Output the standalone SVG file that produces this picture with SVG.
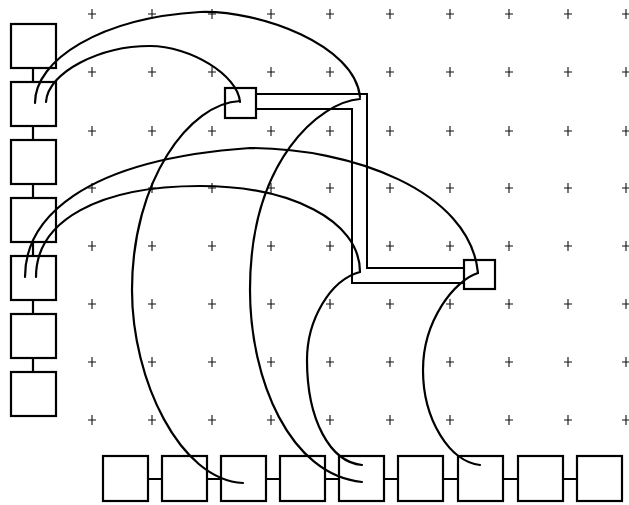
<svg xmlns="http://www.w3.org/2000/svg" xmlns:xlink="http://www.w3.org/1999/xlink" width="629" height="505" viewBox="0 0 629 505">
<style>
.box{fill:none;stroke:#000;stroke-width:2.2}
.wire{fill:none;stroke:#000;stroke-width:2.2;stroke-linecap:round;stroke-linejoin:round}
.link{fill:none;stroke:#000;stroke-width:2.2}
.band{fill:none;stroke:#000;stroke-width:2}
.cross{fill:none;stroke:#111;stroke-width:1.1}
</style>
<defs>
<path id="x" class="cross" d="M-4,0H4M0,-5V5"/>
</defs>
<rect width="629" height="505" fill="#fff"/>
<g id="grid">
<use href="#x" x="92" y="14"/><use href="#x" x="152" y="14"/><use href="#x" x="212" y="14"/><use href="#x" x="271" y="14"/><use href="#x" x="330" y="14"/><use href="#x" x="390" y="14"/><use href="#x" x="450" y="14"/><use href="#x" x="509" y="14"/><use href="#x" x="568" y="14"/><use href="#x" x="626" y="14"/>
<use href="#x" x="92" y="72"/><use href="#x" x="152" y="72"/><use href="#x" x="212" y="72"/><use href="#x" x="271" y="72"/><use href="#x" x="330" y="72"/><use href="#x" x="390" y="72"/><use href="#x" x="450" y="72"/><use href="#x" x="509" y="72"/><use href="#x" x="568" y="72"/><use href="#x" x="626" y="72"/>
<use href="#x" x="92" y="131"/><use href="#x" x="152" y="131"/><use href="#x" x="212" y="131"/><use href="#x" x="271" y="131"/><use href="#x" x="330" y="131"/><use href="#x" x="390" y="131"/><use href="#x" x="450" y="131"/><use href="#x" x="509" y="131"/><use href="#x" x="568" y="131"/><use href="#x" x="626" y="131"/>
<use href="#x" x="92" y="188"/><use href="#x" x="152" y="188"/><use href="#x" x="212" y="188"/><use href="#x" x="271" y="188"/><use href="#x" x="330" y="188"/><use href="#x" x="390" y="188"/><use href="#x" x="450" y="188"/><use href="#x" x="509" y="188"/><use href="#x" x="568" y="188"/><use href="#x" x="626" y="188"/>
<use href="#x" x="92" y="246"/><use href="#x" x="152" y="246"/><use href="#x" x="212" y="246"/><use href="#x" x="271" y="246"/><use href="#x" x="330" y="246"/><use href="#x" x="390" y="246"/><use href="#x" x="450" y="246"/><use href="#x" x="509" y="246"/><use href="#x" x="568" y="246"/><use href="#x" x="626" y="246"/>
<use href="#x" x="92" y="304"/><use href="#x" x="152" y="304"/><use href="#x" x="212" y="304"/><use href="#x" x="271" y="304"/><use href="#x" x="330" y="304"/><use href="#x" x="390" y="304"/><use href="#x" x="450" y="304"/><use href="#x" x="509" y="304"/><use href="#x" x="568" y="304"/><use href="#x" x="626" y="304"/>
<use href="#x" x="92" y="362"/><use href="#x" x="152" y="362"/><use href="#x" x="212" y="362"/><use href="#x" x="271" y="362"/><use href="#x" x="330" y="362"/><use href="#x" x="390" y="362"/><use href="#x" x="450" y="362"/><use href="#x" x="509" y="362"/><use href="#x" x="568" y="362"/><use href="#x" x="626" y="362"/>
<use href="#x" x="92" y="420"/><use href="#x" x="152" y="420"/><use href="#x" x="212" y="420"/><use href="#x" x="271" y="420"/><use href="#x" x="330" y="420"/><use href="#x" x="390" y="420"/><use href="#x" x="450" y="420"/><use href="#x" x="509" y="420"/><use href="#x" x="568" y="420"/><use href="#x" x="626" y="420"/>
</g>
<g id="connectors">
<path class="link" d="M33,68V82M33,126V140M33,184V198M33,242V256M33,300V314M33,358V372"/>
<path class="link" d="M148,479H162M207,479H221M266,479H280M325,479H339M384,479H398M443,479H458M503,479H518M563,479H577"/>
<path class="band" d="M256,94H367V268H464"/>
<path class="band" d="M256,109H352V283H464"/>
<path class="wire" d="M35,103C35,60 100,18 200,12C260,10 355,45 360,97"/>
<path class="wire" d="M46,102C48,72 100,46 150,46C190,46 238,75 240,102"/>
<path class="wire" d="M240,101C190,103 132,180 132,290C132,380 180,480 243,483"/>
<path class="wire" d="M360,99C320,102 250,160 250,290C250,380 290,475 362,482"/>
<path class="wire" d="M25,277C25,220 80,160 250,148C350,148 470,190 478,273"/>
<path class="wire" d="M36,277C36,220 100,186 200,186C290,186 360,220 360,272"/>
<path class="wire" d="M360,272C330,280 307,320 307,360C307,420 330,462 362,465"/>
<path class="wire" d="M478,273C455,280 423,320 423,370C423,420 450,462 480,465"/>
</g>
<g id="left-1"><rect class="box" x="11" y="24" width="45" height="44"/></g>
<g id="left-2"><rect class="box" x="11" y="82" width="45" height="44"/></g>
<g id="left-3"><rect class="box" x="11" y="140" width="45" height="44"/></g>
<g id="left-4"><rect class="box" x="11" y="198" width="45" height="44"/></g>
<g id="left-5"><rect class="box" x="11" y="256" width="45" height="44"/></g>
<g id="left-6"><rect class="box" x="11" y="314" width="45" height="44"/></g>
<g id="left-7"><rect class="box" x="11" y="372" width="45" height="44"/></g>
<g id="node-a"><rect class="box" x="225" y="88" width="31" height="30"/></g>
<g id="node-b"><rect class="box" x="464" y="260" width="31" height="29"/></g>
<g id="bottom-1"><rect class="box" x="103" y="456" width="45" height="45"/></g>
<g id="bottom-2"><rect class="box" x="162" y="456" width="45" height="45"/></g>
<g id="bottom-3"><rect class="box" x="221" y="456" width="45" height="45"/></g>
<g id="bottom-4"><rect class="box" x="280" y="456" width="45" height="45"/></g>
<g id="bottom-5"><rect class="box" x="339" y="456" width="45" height="45"/></g>
<g id="bottom-6"><rect class="box" x="398" y="456" width="45" height="45"/></g>
<g id="bottom-7"><rect class="box" x="458" y="456" width="45" height="45"/></g>
<g id="bottom-8"><rect class="box" x="518" y="456" width="45" height="45"/></g>
<g id="bottom-9"><rect class="box" x="577" y="456" width="45" height="45"/></g>
</svg>
